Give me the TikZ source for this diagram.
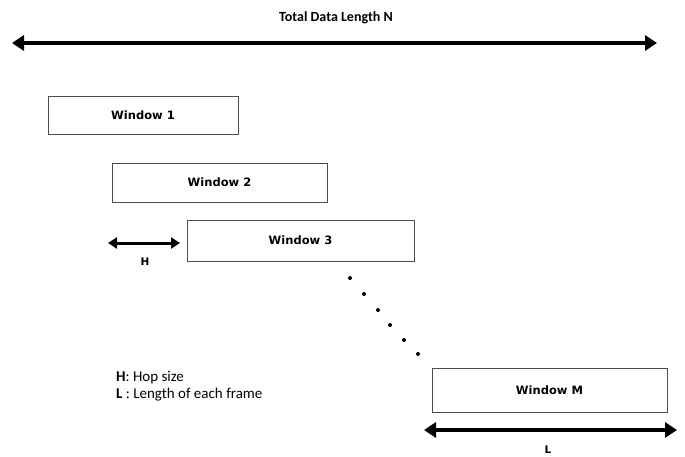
\documentclass[tikz,border=0pt]{standalone}
\usepackage{fontspec}
\setmainfont{Carlito}
\newfontfamily\winfont{DejaVu Sans}
\usetikzlibrary{arrows.meta,positioning}

\begin{document}
\begin{tikzpicture}[
            x=1pt, y=-1pt,
            font=\fontsize{15}{17}\selectfont,
            win/.style={draw=black!70, line width=0.9pt, inner sep=0pt, font=\winfont\bfseries\fontsize{11.5}{13}\selectfont},
            span/.style={{Triangle[length=12pt, width=15pt]}-{Triangle[length=12pt, width=15pt]}, line width=4pt},
            hop/.style={{Triangle[length=9pt, width=11pt]}-{Triangle[length=9pt, width=11pt]}, line width=3pt},
            dimlabel/.style={font=\winfont\bfseries\fontsize{10.5}{12}\selectfont, inner sep=1pt},
            dot/.style={circle, fill=black, inner sep=0pt, minimum size=4pt}
        ]
            \useasboundingbox (0,0) rectangle (685,457);

            % total length
            \coordinate (nL) at (12,43);
            \coordinate (nR) at (657,43);
            \draw[span] (nL) -- (nR);
            \node[font=\bfseries\fontsize{14}{16}\selectfont] (title) at (336,18) {Total Data Length N};

            % windows
            \node[win, minimum width=190pt, minimum height=38pt] (win1) at (143,115) {Window 1};
            \node[win, minimum width=215pt, minimum height=39pt] (win2) at (219.5,182.5) {Window 2};
            \node[win, minimum width=227pt, minimum height=41pt] (win3) at (300.5,240.5) {Window 3};
            \node[win, minimum width=235pt, minimum height=44pt] (winM) at (549.5,390) {Window M};

            % hop size
            \coordinate (hL) at (108,243);
            \coordinate (hR) at (180,243);
            \draw[hop] (hL) -- (hR);
            \node[dimlabel] (hlab) at (145,262) {H};

            % frame length
            \coordinate (lL) at (424,430);
            \coordinate (lR) at (677,430);
            \draw[span] (lL) -- (lR);
            \node[dimlabel] (llab) at (548,450) {L};

            % dots
            \foreach \i/\px/\py in {1/350/278, 2/364/294, 3/378/310, 4/390/325, 5/404/340, 6/418/354}
                \node[dot] (d\i) at (\px,\py) {};

            % legend
            \node[anchor=west, inner sep=0pt] (legH) at (116,378) {\textbf{H}: Hop size};
            \node[anchor=west, inner sep=0pt] (legL) at (116,395) {\textbf{L} : Length of each frame};
        \end{tikzpicture}
\end{document}
